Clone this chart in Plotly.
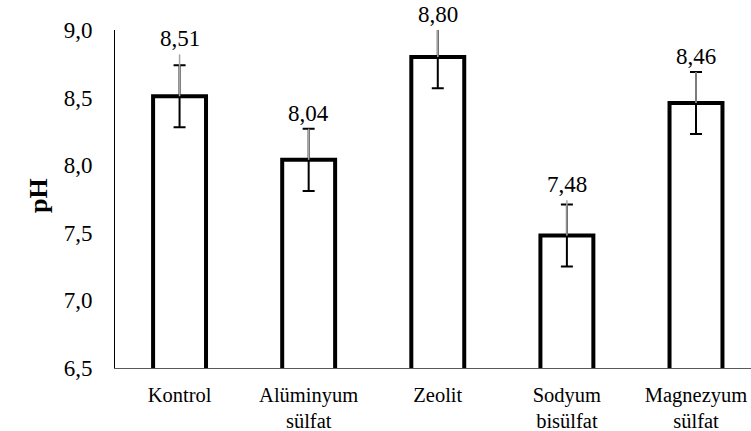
import plotly.graph_objects as go

categories = ["Kontrol", "Alüminyum<br>sülfat", "Zeolit", "Sodyum<br>bisülfat", "Magnezyum<br>sülfat"]
ph_values = [8.51, 8.04, 8.80, 7.48, 8.46]
ph_errors = [0.23, 0.23, 0.23, 0.23, 0.23]
gray_upper = [0.31, 0.23, 0.20, 0.26, 0.23]
y_ticks = [6.5, 7.0, 7.5, 8.0, 8.5, 9.0]
y_title = "pH"

FONT = "Liberation Serif, Times New Roman, serif"

fig = go.Figure()
fig.add_trace(go.Bar(
    x=categories, y=ph_values, width=0.41,
    marker=dict(color="white", line=dict(color="black", width=4)),
    error_y=dict(type="data", array=ph_errors, visible=True,
                 color="black", thickness=2, width=6),
    showlegend=False, hoverinfo="skip",
))
fig.add_trace(go.Scatter(
    x=categories, y=ph_values, mode="markers",
    marker=dict(opacity=0, size=1),
    error_y=dict(type="data", symmetric=False, array=gray_upper,
                 arrayminus=[0] * len(gray_upper), visible=True,
                 color="#a6a6a6", thickness=1.5, width=0),
    showlegend=False, hoverinfo="skip",
))

for c, v, g in zip(categories, ph_values, gray_upper):
    fig.add_annotation(x=c, y=min(v + g, 9.0), text=f"{v:.2f}".replace(".", ","),
                       showarrow=False, yanchor="bottom", yshift=1,
                       font=dict(family=FONT, size=23, color="black"))

fig.add_annotation(xref="paper", yref="paper", x=0, y=0.5, xshift=-77, yshift=3,
                   text=f"<b>{y_title}</b>", textangle=-90, showarrow=False,
                   xanchor="center", yanchor="middle",
                   font=dict(family=FONT, size=26, color="black"))

fig.update_layout(
    width=751, height=431,
    margin=dict(l=115, r=0, t=30, b=63),
    plot_bgcolor="white", paper_bgcolor="white",
    separators=",.",
    font=dict(family=FONT, size=20, color="black"),
)
fig.update_xaxes(
    range=[-0.5, 4.426], showline=True, linecolor="#595959", linewidth=1,
    ticks="", showgrid=False, ticklabelstandoff=8,
    tickfont=dict(family=FONT, size=20.5, color="black"),
)
fig.update_yaxes(
    range=[6.5, 9.0], tickvals=y_ticks, tickformat=".1f",
    showline=True, linecolor="black", linewidth=1, ticks="", showgrid=False,
    zeroline=False, ticklabelstandoff=17,
    tickfont=dict(family=FONT, size=23, color="black"),
)

fig.write_html("out.html")
